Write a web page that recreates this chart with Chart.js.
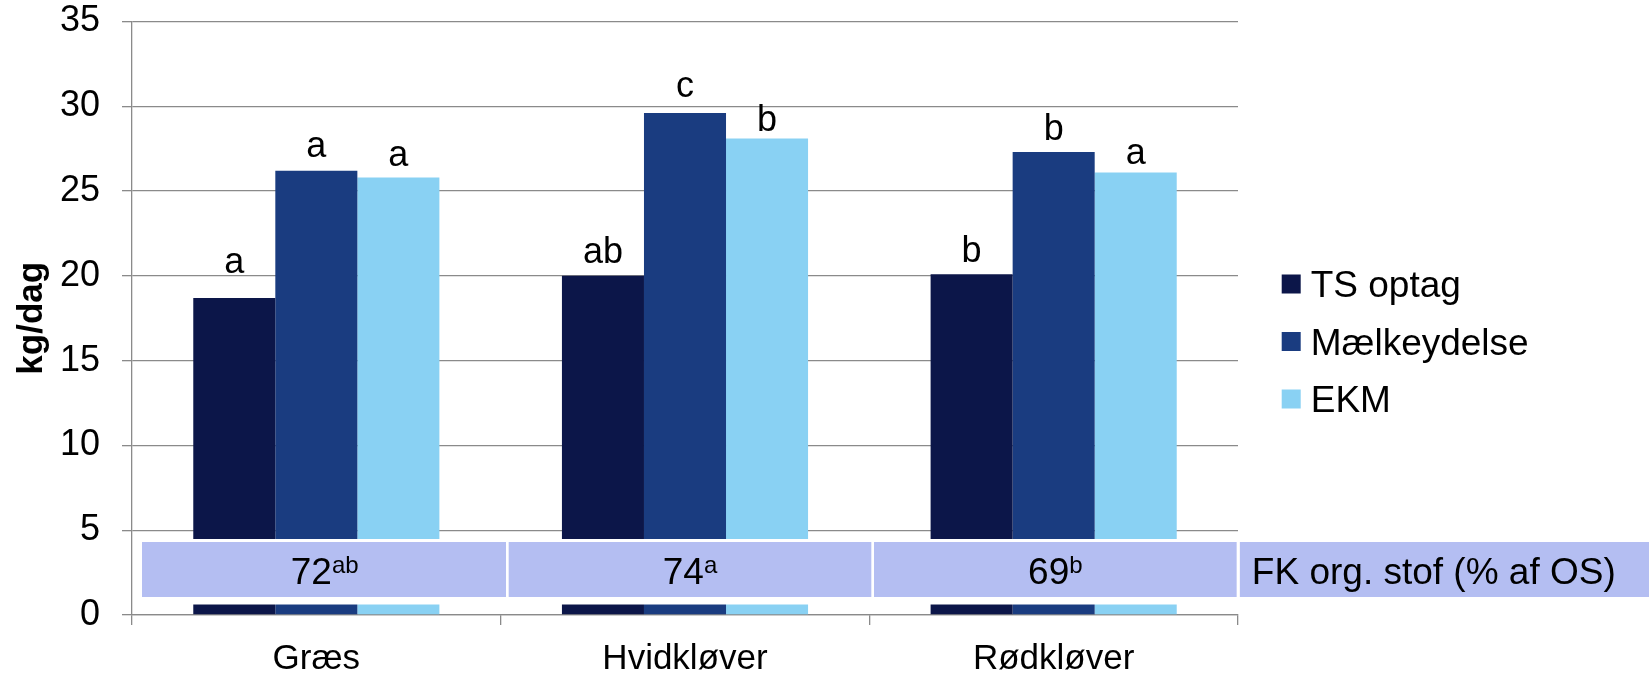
<!DOCTYPE html>
<html>
<head>
<meta charset="utf-8">
<script src="https://cdn.jsdelivr.net/npm/chart.js@4.4.1/dist/chart.umd.min.js"></script>
<style>
  html, body { margin: 0; padding: 0; background: #ffffff; }
  #wrap { width: 1649px; height: 675px; position: relative; }
  canvas { display: block; }
</style>
</head>
<body>
<div id="wrap"><canvas id="chart" width="1649" height="675"></canvas></div>
<script>
// Feed groups and series
const categories = ['Græs', 'Hvidkløver', 'Rødkløver'];
const seriesNames = ['TS optag', 'Mælkeydelse', 'EKM'];

// kg/dag per feed group
const tsOptag = [18.7, 20.0, 20.1];
const maelkeydelse = [26.2, 29.6, 27.3];
const ekm = [25.8, 28.1, 26.1];

// Significance letters shown above each bar
const lettersTS = ['a', 'ab', 'b'];
const lettersMaelk = ['a', 'c', 'b'];
const lettersEKM = ['a', 'b', 'a'];

// Digestibility of organic matter row
const fkValues = ['72', '74', '69'];
const fkLetters = ['ab', 'a', 'b'];
const fkTitle = 'FK org. stof (% af OS)';

// Value axis
const yMin = 0;
const yMax = 35;
const yStep = 5;
const yTitle = 'kg/dag';

const FONT = '"Liberation Sans", Arial, Helvetica, sans-serif';
const AXIS_GREY = '#8a8a8a';
const seriesColors = ['#0c1649', '#1a3c80', '#89d1f3'];
const bandColor = '#b4bef2';

// Letters drawn above bars (lift above bar top, in px, per series/category)
const letterPlugin = {
  id: 'sigLetters',
  afterDatasetsDraw(chart, args, opts) {
    const ctx = chart.ctx;
    ctx.save();
    ctx.font = `${opts.size}px ${FONT}`;
    ctx.fillStyle = '#000';
    ctx.textAlign = 'center';
    ctx.textBaseline = 'alphabetic';
    opts.letters.forEach((arr, i) => {
      const meta = chart.getDatasetMeta(i);
      meta.data.forEach((bar, j) => {
        ctx.fillText(arr[j], bar.x, bar.y - opts.lift[i][j]);
      });
    });
    ctx.restore();
  }
};

// FK row drawn across the lower part of the plot
const bandPlugin = {
  id: 'fkBand',
  afterDatasetsDraw(chart, args, opts) {
    const ctx = chart.ctx;
    const area = chart.chartArea;
    const W = chart.width;
    const coverTop = area.bottom - 76;
    const coverBot = area.bottom - 10.5;
    const top = area.bottom - 73;
    const bot = area.bottom - 18;
    ctx.save();
    // white gap behind the row
    ctx.fillStyle = '#ffffff';
    ctx.fillRect(area.left + 1.5, coverTop, area.right - area.left - 1.5, coverBot - coverTop);
    const left = area.left + 10;
    const colW = (area.right - left) / 3;
    const gap = 2.7;
    ctx.fillStyle = bandColor;
    for (let k = 0; k < 3; k++) {
      const x0 = left + k * colW + (k === 0 ? 0 : gap / 2);
      const x1 = left + (k + 1) * colW - gap / 2;
      ctx.fillRect(x0, top, x1 - x0, bot - top);
    }
    const lastX = area.right + gap / 2 + 0.5;
    ctx.fillRect(lastX, top, W - lastX, bot - top);

    // texts
    const baseY = bot - 12.7;
    const mainFont = `${opts.size}px ${FONT}`;
    const supFont = `${opts.supSize}px ${FONT}`;
    ctx.fillStyle = '#000';
    ctx.textBaseline = 'alphabetic';
    ctx.textAlign = 'left';
    for (let k = 0; k < 3; k++) {
      const cx = left + (k + 0.5) * colW;
      ctx.font = mainFont;
      const wMain = ctx.measureText(fkValues[k]).width;
      ctx.font = supFont;
      const wSup = ctx.measureText(fkLetters[k]).width;
      const x = cx - (wMain + wSup) / 2;
      ctx.font = mainFont;
      ctx.fillText(fkValues[k], x, baseY);
      ctx.font = supFont;
      ctx.fillText(fkLetters[k], x + wMain, baseY - 11.3);
    }
    ctx.font = mainFont;
    ctx.fillText(fkTitle, lastX + 12, baseY);
    ctx.restore();
  }
};

// Legend at the right, built from the datasets
const sideLegend = {
  id: 'sideLegend',
  afterDraw(chart, args, opts) {
    const ctx = chart.ctx;
    ctx.save();
    ctx.font = `${opts.size}px ${FONT}`;
    ctx.textBaseline = 'alphabetic';
    ctx.textAlign = 'left';
    chart.data.datasets.forEach((ds, i) => {
      const cy = opts.y + i * opts.step;
      ctx.fillStyle = ds.backgroundColor;
      ctx.fillRect(opts.x, cy - opts.box / 2, opts.box, opts.box);
      ctx.fillStyle = '#000';
      ctx.fillText(ds.label, opts.x + opts.box + 10, cy + opts.size * 0.358);
    });
    ctx.restore();
  }
};

const seriesValues = [tsOptag, maelkeydelse, ekm];

new Chart(document.getElementById('chart'), {
  type: 'bar',
  data: {
    labels: categories,
    datasets: seriesNames.map((name, i) => ({
      label: name,
      data: seriesValues[i],
      backgroundColor: seriesColors[i],
      borderWidth: 0,
      categoryPercentage: 0.6676,
      barPercentage: 1.0
    }))
  },
  options: {
    responsive: false,
    animation: false,
    devicePixelRatio: 1,
    layout: { padding: { left: 0, right: 411, top: 0, bottom: 0 } },
    plugins: {
      legend: { display: false },
      tooltip: { enabled: false },
      sigLetters: {
        size: 36,
        letters: [lettersTS, lettersMaelk, lettersEKM],
        lift: [[24.7, 12.4, 12.5], [13.9, 16, 11.7], [11.3, 7.3, 8.7]]
      },
      fkBand: { size: 37, supSize: 24 },
      sideLegend: { x: 1281.7, y: 284, step: 57.5, box: 19, size: 37 }
    },
    scales: {
      x: {
        afterFit(scale) { scale.height = 60; },
        grid: {
          display: true,
          drawOnChartArea: false,
          drawTicks: true,
          tickLength: 10,
          color: AXIS_GREY,
          lineWidth: 1.3,
          offset: true
        },
        border: { display: true, color: AXIS_GREY, width: 1.3 },
        ticks: {
          color: '#000',
          padding: 13,
          font: { family: FONT, size: 35 }
        }
      },
      y: {
        min: yMin,
        max: yMax,
        afterFit(scale) {
          scale.width = 132;
          scale.paddingTop = 21.5;
          scale.paddingBottom = 0;
        },
        grid: {
          color: AXIS_GREY,
          lineWidth: 1.3,
          drawTicks: true,
          tickLength: 10
        },
        border: { display: true, color: AXIS_GREY, width: 1.3 },
        ticks: {
          stepSize: yStep,
          color: '#000',
          padding: 22,
          font: { family: FONT, size: 36 }
        },
        title: {
          display: true,
          text: yTitle,
          color: '#000',
          padding: { top: 11, bottom: 0 },
          font: { family: FONT, size: 35, weight: 'bold' }
        }
      }
    }
  },
  plugins: [letterPlugin, bandPlugin, sideLegend]
});
</script>
</body>
</html>
